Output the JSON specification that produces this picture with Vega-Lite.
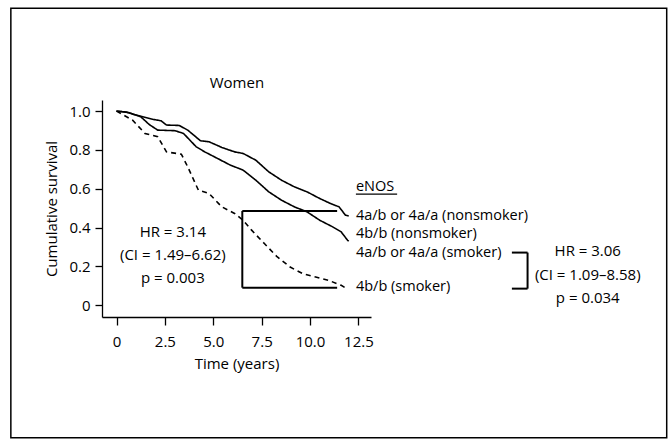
{
  "$schema": "https://vega.github.io/schema/vega-lite/v6.json",
  "width": 269,
  "height": 217,
  "autosize": "none",
  "padding": {"left": 102, "top": 100, "right": 298, "bottom": 123},
  "background": "white",
  "config": {
    "view": {"stroke": null},
    "axis": {"grid": false, "domainColor": "black", "domainWidth": 1.3, "tickColor": "black", "tickWidth": 1.3, "labelColor": "black", "labelFont": "Open Sans", "labelFontSize": 15, "titleFont": "Open Sans", "titleFontSize": 15, "titleFontWeight": "normal", "titleColor": "black"}
  },
  "datasets": {
    "curves": [
      {"group": "4a/b or 4a/a (nonsmoker)", "t": 0, "s": 1.0},
      {"group": "4a/b or 4a/a (nonsmoker)", "t": 0.5, "s": 0.995},
      {"group": "4a/b or 4a/a (nonsmoker)", "t": 1.03, "s": 0.979},
      {"group": "4a/b or 4a/a (nonsmoker)", "t": 1.8, "s": 0.959},
      {"group": "4a/b or 4a/a (nonsmoker)", "t": 2.3, "s": 0.95},
      {"group": "4a/b or 4a/a (nonsmoker)", "t": 2.58, "s": 0.928},
      {"group": "4a/b or 4a/a (nonsmoker)", "t": 3.24, "s": 0.926},
      {"group": "4a/b or 4a/a (nonsmoker)", "t": 3.68, "s": 0.902},
      {"group": "4a/b or 4a/a (nonsmoker)", "t": 4.34, "s": 0.847},
      {"group": "4a/b or 4a/a (nonsmoker)", "t": 4.78, "s": 0.842},
      {"group": "4a/b or 4a/a (nonsmoker)", "t": 5.44, "s": 0.813},
      {"group": "4a/b or 4a/a (nonsmoker)", "t": 6.1, "s": 0.79},
      {"group": "4a/b or 4a/a (nonsmoker)", "t": 6.54, "s": 0.782},
      {"group": "4a/b or 4a/a (nonsmoker)", "t": 7.2, "s": 0.747},
      {"group": "4a/b or 4a/a (nonsmoker)", "t": 7.87, "s": 0.687},
      {"group": "4a/b or 4a/a (nonsmoker)", "t": 8.53, "s": 0.644},
      {"group": "4a/b or 4a/a (nonsmoker)", "t": 9.19, "s": 0.61},
      {"group": "4a/b or 4a/a (nonsmoker)", "t": 9.85, "s": 0.584},
      {"group": "4a/b or 4a/a (nonsmoker)", "t": 10.5, "s": 0.55},
      {"group": "4a/b or 4a/a (nonsmoker)", "t": 11.06, "s": 0.524},
      {"group": "4a/b or 4a/a (nonsmoker)", "t": 11.5, "s": 0.507},
      {"group": "4a/b or 4a/a (nonsmoker)", "t": 11.83, "s": 0.464},
      {"group": "4a/b or 4a/a (nonsmoker)", "t": 12.0, "s": 0.46},
      {"group": "4b/b (nonsmoker)", "t": 0, "s": 1.0},
      {"group": "4b/b (nonsmoker)", "t": 0.6, "s": 0.993},
      {"group": "4b/b (nonsmoker)", "t": 1.25, "s": 0.971},
      {"group": "4b/b (nonsmoker)", "t": 1.7, "s": 0.93},
      {"group": "4b/b (nonsmoker)", "t": 2.13, "s": 0.902},
      {"group": "4b/b (nonsmoker)", "t": 3.02, "s": 0.899},
      {"group": "4b/b (nonsmoker)", "t": 3.46, "s": 0.885},
      {"group": "4b/b (nonsmoker)", "t": 4.12, "s": 0.816},
      {"group": "4b/b (nonsmoker)", "t": 4.56, "s": 0.79},
      {"group": "4b/b (nonsmoker)", "t": 5.22, "s": 0.756},
      {"group": "4b/b (nonsmoker)", "t": 5.88, "s": 0.722},
      {"group": "4b/b (nonsmoker)", "t": 6.54, "s": 0.696},
      {"group": "4b/b (nonsmoker)", "t": 7.2, "s": 0.644},
      {"group": "4b/b (nonsmoker)", "t": 7.87, "s": 0.584},
      {"group": "4b/b (nonsmoker)", "t": 8.53, "s": 0.541},
      {"group": "4b/b (nonsmoker)", "t": 9.19, "s": 0.507},
      {"group": "4b/b (nonsmoker)", "t": 9.85, "s": 0.481},
      {"group": "4b/b (nonsmoker)", "t": 10.5, "s": 0.438},
      {"group": "4b/b (nonsmoker)", "t": 11.17, "s": 0.404},
      {"group": "4b/b (nonsmoker)", "t": 11.61, "s": 0.378},
      {"group": "4b/b (nonsmoker)", "t": 11.94, "s": 0.335},
      {"group": "4b/b (nonsmoker)", "t": 12.0, "s": 0.33},
      {"group": "4b/b (smoker)", "t": 0, "s": 1.0},
      {"group": "4b/b (smoker)", "t": 0.82, "s": 0.954},
      {"group": "4b/b (smoker)", "t": 1.47, "s": 0.885},
      {"group": "4b/b (smoker)", "t": 2.13, "s": 0.868},
      {"group": "4b/b (smoker)", "t": 2.58, "s": 0.79},
      {"group": "4b/b (smoker)", "t": 3.35, "s": 0.778},
      {"group": "4b/b (smoker)", "t": 3.68, "s": 0.713},
      {"group": "4b/b (smoker)", "t": 4.23, "s": 0.593},
      {"group": "4b/b (smoker)", "t": 4.78, "s": 0.576},
      {"group": "4b/b (smoker)", "t": 5.44, "s": 0.507},
      {"group": "4b/b (smoker)", "t": 6.1, "s": 0.473},
      {"group": "4b/b (smoker)", "t": 6.54, "s": 0.438},
      {"group": "4b/b (smoker)", "t": 6.98, "s": 0.387},
      {"group": "4b/b (smoker)", "t": 7.64, "s": 0.318},
      {"group": "4b/b (smoker)", "t": 8.31, "s": 0.249},
      {"group": "4b/b (smoker)", "t": 8.97, "s": 0.197},
      {"group": "4b/b (smoker)", "t": 9.63, "s": 0.163},
      {"group": "4b/b (smoker)", "t": 10.29, "s": 0.146},
      {"group": "4b/b (smoker)", "t": 10.95, "s": 0.129},
      {"group": "4b/b (smoker)", "t": 11.61, "s": 0.103},
      {"group": "4b/b (smoker)", "t": 11.9, "s": 0.086}
    ],
    "brackets": [
      {"x": 6.5, "x2": 11.4, "y": 0.486, "y2": 0.486},
      {"x": 6.5, "x2": 6.5, "y": 0.486, "y2": 0.091},
      {"x": 6.5, "x2": 11.4, "y": 0.091, "y2": 0.091},
      {"x": 20.43, "x2": 21.24, "y": 0.2716, "y2": 0.2716},
      {"x": 21.24, "x2": 21.24, "y": 0.2716, "y2": 0.086},
      {"x": 20.43, "x2": 21.24, "y": 0.086, "y2": 0.086}
    ],
    "underline": [
      {"x": 12.37, "x2": 14.5, "y": 0.573, "y2": 0.573}
    ],
    "frame": [
      {"x": -5.46, "x2": 28.43, "y": 1.529, "y2": -0.682}
    ],
    "leftTexts": [
      {"label": "eNOS", "t": 12.37, "s": 0.61},
      {"label": "4a/b or 4a/a (nonsmoker)", "t": 12.37, "s": 0.459},
      {"label": "4b/b (nonsmoker)", "t": 12.37, "s": 0.366},
      {"label": "4a/b or 4a/a (smoker)", "t": 12.37, "s": 0.271},
      {"label": "4b/b (smoker)", "t": 12.37, "s": 0.094}
    ],
    "centerTexts": [
      {"label": "Women", "t": 6.22, "s": 1.144},
      {"label": "HR = 3.14", "t": 2.91, "s": 0.378},
      {"label": "(CI = 1.49–6.62)", "t": 2.91, "s": 0.258},
      {"label": "p = 0.003", "t": 2.91, "s": 0.141},
      {"label": "HR = 3.06", "t": 24.35, "s": 0.28},
      {"label": "(CI = 1.09–8.58)", "t": 24.35, "s": 0.155},
      {"label": "p = 0.034", "t": 24.35, "s": 0.038}
    ]
  },
  "layer": [
    {
      "data": {"name": "curves"},
      "mark": {"type": "line", "color": "black", "strokeWidth": 1.6},
      "encoding": {
        "x": {"field": "t", "type": "quantitative", "scale": {"domain": [-0.75, 13.15], "nice": false, "zero": false},
              "axis": {"values": [0, 2.5, 5, 7.5, 10, 12.5], "format": ".1f", "labelExpr": "datum.value == 0 ? '0' : datum.label", "title": "Time (years)", "tickSize": 8, "labelPadding": 9, "titlePadding": 7}},
        "y": {"field": "s", "type": "quantitative", "scale": {"domain": [-0.06, 1.057], "nice": false, "zero": false},
              "axis": {"values": [0, 0.2, 0.4, 0.6, 0.8, 1.0], "format": ".1f", "labelExpr": "datum.value == 0 ? '0' : datum.label", "title": "Cumulative survival", "tickSize": 7, "labelPadding": 5, "titlePadding": 9}},
        "detail": {"field": "group"},
        "strokeDash": {"field": "group", "type": "nominal", "legend": null,
          "scale": {"domain": ["4a/b or 4a/a (nonsmoker)", "4b/b (nonsmoker)", "4b/b (smoker)"], "range": [[1, 0], [1, 0], [5, 4]]}}
      }
    },
    {
      "data": {"name": "frame"},
      "mark": {"type": "rect", "filled": false, "color": "black", "strokeWidth": 1.5, "clip": false},
      "encoding": {
        "x": {"field": "x", "type": "quantitative"},
        "x2": {"field": "x2"},
        "y": {"field": "y", "type": "quantitative"},
        "y2": {"field": "y2"}
      }
    },
    {
      "data": {"name": "brackets"},
      "mark": {"type": "rule", "color": "black", "strokeWidth": 2},
      "encoding": {
        "x": {"field": "x", "type": "quantitative"},
        "x2": {"field": "x2"},
        "y": {"field": "y", "type": "quantitative"},
        "y2": {"field": "y2"}
      }
    },
    {
      "data": {"name": "underline"},
      "mark": {"type": "rule", "color": "black", "strokeWidth": 1.2},
      "encoding": {
        "x": {"field": "x", "type": "quantitative"},
        "x2": {"field": "x2"},
        "y": {"field": "y", "type": "quantitative"},
        "y2": {"field": "y2"}
      }
    },
    {
      "data": {"name": "leftTexts"},
      "mark": {"type": "text", "align": "left", "baseline": "middle", "font": "Open Sans", "fontSize": 14.5, "color": "black"},
      "encoding": {
        "x": {"field": "t", "type": "quantitative"},
        "y": {"field": "s", "type": "quantitative"},
        "text": {"field": "label"}
      }
    },
    {
      "data": {"name": "centerTexts"},
      "mark": {"type": "text", "align": "center", "baseline": "middle", "font": "Open Sans", "fontSize": 15, "color": "black"},
      "encoding": {
        "x": {"field": "t", "type": "quantitative"},
        "y": {"field": "s", "type": "quantitative"},
        "text": {"field": "label"}
      }
    }
  ]
}
